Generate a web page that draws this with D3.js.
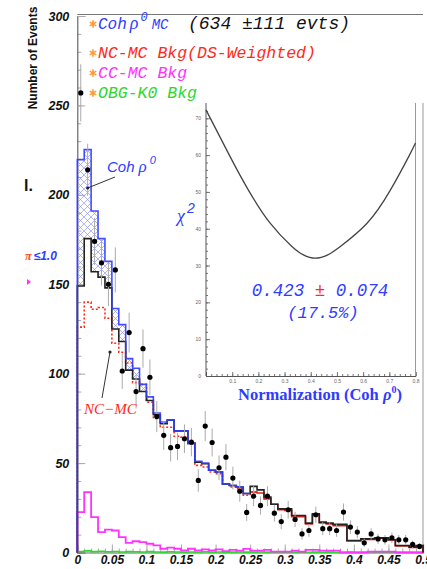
<!DOCTYPE html>
<html>
<head>
<meta charset="utf-8">
<script src="https://cdn.jsdelivr.net/npm/d3@7"></script>
<style>
  body { margin: 0; background: #fff; }
  svg { display: block; }
</style>
</head>
<body>
<div id="container"></div>
<script>
const width = 427;
const height = 569;

// 50 bins of 0.01 from 0 to 0.5
const binWidth = 0.01;
const dataCounts = [257, 214, 174, 162, 150, 158, 101.5, 123, 90, 114,
                    98, 76, 65.5, 58.6, 59.3, 63.6, 61.7, 40.3, 70.7, 61.5,
                    47.4, 53.3, 41.6, 34.3, 22.4, 31.5, 26.3, 31.5, 22, 17.3,
                    23.9, 18.5, 10.4, 12.3, 21.1, 13.3, 13.3, 12.3, 22.6, 14.2,
                    11.4, 5.4, 10.4, 7.6, 7.1, 8.2, 7.1, 7.1, 4.5, 3.4];
const dataErrors = [16, 14.6, 13.2, 12.7, 12.2, 12.6, 10, 11.1, 9.5, 10.7,
                    9.9, 8.7, 8.1, 7.7, 7.7, 8, 7.9, 6.3, 8.4, 7.8,
                    6.9, 7.3, 6.4, 5.9, 4.7, 5.6, 5.1, 5.6, 4.7, 4.2,
                    4.9, 4.3, 3.2, 3.5, 4.6, 3.6, 3.6, 3.5, 4.8, 3.8,
                    3.4, 2.3, 3.2, 2.8, 2.7, 2.9, 2.7, 2.7, 2.1, 1.8];
const totalMC = [149, 175.5, 157, 154, 148, 125, 118, 102, 97, 90,
                 85, 77, 72, 74, 68, 68, 61, 50.5, 49.6, 46,
                 45, 38.4, 37.5, 36.6, 33, 37, 35, 31, 27, 24.4,
                 24.4, 20.7, 20.7, 16.4, 21.6, 17, 16.4, 15.7, 15.7, 6.7,
                 6.7, 7.6, 7.6, 8.2, 8.2, 7.1, 3.9, 3.9, 3.0, 3.9];
const cohPlusBkg = [219.7, 225.3, 191, 175.5, 162.8, 136.4, 127.4, 108.4, 103, 94,
                    87, 78, 73, 74, 68, 68, 61, 51, 50, 46,
                    45, 38.4, 37.5, 36.6, 33];
const ncBkg = [126, 140, 136, 137, 131, 117, 112, 106, 95, 94,
               84, 75, 70, 70, 65, 64.5, 61, 48.7, 47.8, 45,
               44, 38.4, 36.6, 35.7, 32, 33.8, 33.3, 30, 27, 24,
               23.5, 20, 20, 16, 21, 16.5, 16, 15, 15, 6.5,
               6.5, 7.3, 7.3, 8, 8, 7, 3.7, 3.7, 2.8, 3.7];
const ccBkg = [22.6, 33.8, 19.8, 11.4, 12.8, 12.3, 8.6, 5.4, 6.3, 5.8,
               4.9, 4.0, 2.1, 2.7, 2.1, 1.2, 2.1, 1.2, 1.7, 1.2,
               1.7, 0.8, 1.5, 1.0, 2.0, 1.0, 1.0, 1.5, 0.5, 0.5,
               0.5, 1.0, 0.5, 1.5, 1.5, 1.0, 1.0, 1.0, 0, 0,
               0, 0, 0.5, 0.5, 0.5, 0.5, 0, 0, 0, 0];
const obgBkg = [0.6, 0.9, 0.5, 0.7, 0.4, 0.6, 0.3, 0.5, 0.4, 0.3,
                0.5, 0.3, 0.2, 0.4, 0.3, 0.2, 0.3, 0.2, 0.4, 0.2,
                0.3, 0.2, 0.2, 0.3, 0.2, 0.2, 0.3, 0.2, 0.2, 0.2,
                0.1, 0.2, 0.2, 0.1, 0.2, 0.1, 0.2, 0.1, 0.1, 0.2,
                0.1, 0.1, 0.2, 0.1, 0.1, 0.1, 0.1, 0.1, 0.1, 0.1];
const redDashedBins = 26;

const yMajorTicks = [0, 50, 100, 150, 200, 250, 300];
const xMajorTicks = [0, 0.05, 0.1, 0.15, 0.2, 0.25, 0.3, 0.35, 0.4, 0.45, 0.5];
const xTickLabels = ["0", "0.05", "0.1", "0.15", "0.2", "0.25", "0.3", "0.35", "0.4", "0.45", "0.5"];

// chi2 scan
const chiNorm = [0, 0.092, 0.162, 0.245, 0.328, 0.372, 0.417, 0.465, 0.513, 0.615, 0.704, 0.774, 0.8];
const chiValues = [72.3, 59.6, 50.5, 41.5, 35.2, 32.9, 32.0, 32.9, 35.2, 41.5, 50.5, 59.6, 63.3];
const insetYTicks = [0, 10, 20, 30, 40, 50, 60, 70];
const insetXTicks = [0.1, 0.2, 0.3, 0.4, 0.5, 0.6, 0.7, 0.8];

const legendEntries = [
  {label: "NC-MC Bkg(DS-Weighted)", color: "#ff2a1a"},
  {label: "CC-MC Bkg", color: "#ff33ff"},
  {label: "OBG-K0 Bkg", color: "#2ed62e"}
];

const blue = "#2f3cff";
const mono = "'Liberation Mono', 'DejaVu Sans Mono', monospace";
const sans = "'Liberation Sans', Arial, sans-serif";
const serif = "'Liberation Serif', 'Times New Roman', serif";

const svg = d3.select("#container")
              .append("svg")
              .attr("width", width)
              .attr("height", height);

const defs = svg.append("defs");
const hatch = defs.append("pattern")
                  .attr("id", "hatch")
                  .attr("patternUnits", "userSpaceOnUse")
                  .attr("width", 7)
                  .attr("height", 7);
hatch.append("path")
     .attr("d", "M0,0 L7,7 M-1,6 L1,8 M6,-1 L8,1 M7,0 L0,7 M-1,1 L1,-1 M6,8 L8,6")
     .attr("stroke", "#8c94ff")
     .attr("stroke-width", 0.7)
     .attr("fill", "none");

const x = d3.scaleLinear().domain([0, 0.5]).range([77.3, 423]);
const y = d3.scaleLinear().domain([0, 300]).range([552.5, 16]);

function stepLine(values, startBin, dropStart, dropEnd) {
  const pts = [];
  if (dropStart) pts.push([x(startBin * binWidth), y(0)]);
  values.forEach((v, i) => {
    const b = (startBin + i) * binWidth;
    pts.push([x(b), y(v)], [x(b + binWidth), y(v)]);
  });
  if (dropEnd) pts.push([x((startBin + values.length) * binWidth), y(0)]);
  return d3.line()(pts);
}

// inset pad background
svg.append("rect")
   .attr("x", 176)
   .attr("y", 100)
   .attr("width", 247)
   .attr("height", 310)
   .attr("fill", "#fff");
svg.append("line")
   .attr("x1", 423).attr("x2", 423)
   .attr("y1", 103).attr("y2", 552)
   .attr("stroke", "#bbb")
   .attr("stroke-width", 1.5);

// main axes frame
svg.append("line")
   .attr("x1", x(0)).attr("x2", 423)
   .attr("y1", 14.5).attr("y2", 14.5)
   .attr("stroke", "#777")
   .attr("stroke-width", 1);

const yMinor = svg.append("g")
                  .attr("transform", "translate(" + x(0) + ",0)")
                  .call(d3.axisLeft(y).tickValues(d3.range(0, 301, 10)).tickSize(-4).tickFormat(""));
const yAxis = svg.append("g")
                 .attr("transform", "translate(" + x(0) + ",0)")
                 .call(d3.axisLeft(y).tickValues(yMajorTicks).tickSize(-8).tickPadding(8));
yAxis.selectAll("text")
     .attr("font-family", sans)
     .attr("font-style", "italic")
     .attr("font-weight", "bold")
     .attr("font-size", 12.5)
     .attr("fill", "#111");
const xMinor = svg.append("g")
                  .attr("transform", "translate(0," + y(0) + ")")
                  .call(d3.axisBottom(x).tickValues(d3.range(0, 0.505, 0.01)).tickSize(-4).tickFormat(""));
const xAxis = svg.append("g")
                 .attr("transform", "translate(0," + y(0) + ")")
                 .call(d3.axisBottom(x).tickValues(xMajorTicks).tickSize(-8).tickPadding(3)
                         .tickFormat((d, i) => xTickLabels[i]));
xAxis.selectAll("text")
     .attr("font-family", sans)
     .attr("font-style", "italic")
     .attr("font-weight", "bold")
     .attr("font-size", 12)
     .attr("fill", "#111");
[yMinor, yAxis, xMinor, xAxis].forEach(g => {
  g.selectAll(".tick line").attr("stroke", "#aaa");
  g.select(".domain").attr("stroke", "#666").attr("stroke-width", 1.2);
});
xMinor.select(".domain").remove();
yMinor.select(".domain").remove();

svg.append("text")
   .attr("transform", "translate(37,58) rotate(-90)")
   .attr("text-anchor", "middle")
   .attr("font-family", sans)
   .attr("font-weight", "bold")
   .attr("font-size", 12)
   .attr("fill", "#111")
   .text("Number of Events");

// hatched area between total and Coh+bkg
svg.append("g")
   .selectAll("rect")
   .data(cohPlusBkg)
   .enter()
   .filter((d, i) => d > totalMC[i])
   .append("rect")
   .attr("x", (d, i) => x(i * binWidth))
   .attr("width", x(binWidth) - x(0))
   .attr("y", d => y(d))
   .attr("height", (d, i) => y(totalMC[i]) - y(d))
   .attr("fill", "url(#hatch)");

// histograms
svg.append("path")
   .attr("d", stepLine(obgBkg, 0, true, true))
   .attr("fill", "none")
   .attr("stroke", "#2ed62e")
   .attr("stroke-width", 1.6);
svg.append("path")
   .attr("d", stepLine(ccBkg, 0, true, true))
   .attr("fill", "none")
   .attr("stroke", "#ff33ff")
   .attr("stroke-width", 1.8);
svg.append("path")
   .attr("d", stepLine(ncBkg.slice(0, redDashedBins), 0, true, false))
   .attr("fill", "none")
   .attr("stroke", "#ff2a1a")
   .attr("stroke-width", 1.6)
   .attr("stroke-dasharray", "2,2");
svg.append("path")
   .attr("d", stepLine(ncBkg.slice(redDashedBins - 1), redDashedBins - 1, false, true))
   .attr("fill", "none")
   .attr("stroke", "#e0201a")
   .attr("stroke-width", 1.6);
svg.append("path")
   .attr("d", stepLine(totalMC, 0, true, true))
   .attr("fill", "none")
   .attr("stroke", "#222")
   .attr("stroke-width", 1.6);
svg.append("path")
   .attr("d", stepLine(cohPlusBkg, 0, true, false))
   .attr("fill", "none")
   .attr("stroke", blue)
   .attr("stroke-width", 1.6)
   .attr("stroke-opacity", 0.9);

// data points with error bars
const pts = svg.append("g")
               .selectAll("g")
               .data(dataCounts)
               .enter()
               .append("g")
               .attr("transform", (d, i) => "translate(" + x((i + 0.5) * binWidth) + ",0)");
pts.append("line")
   .attr("y1", (d, i) => y(d + dataErrors[i]))
   .attr("y2", (d, i) => y(Math.max(0, d - dataErrors[i])))
   .attr("stroke", "#aaa")
   .attr("stroke-width", 1);
pts.append("circle")
   .attr("cy", d => y(d))
   .attr("r", 2.6)
   .attr("fill", "#000");

// legend
const star = d3.symbol().type(d3.symbolAsterisk).size(40);
[24, 53, 73, 93].forEach(cy => {
  svg.append("path")
     .attr("d", star())
     .attr("transform", "translate(93," + cy + ")")
     .attr("stroke", "#ff9933")
     .attr("stroke-width", 1.6)
     .attr("fill", "none");
});
const leg1 = svg.append("text")
                .attr("x", 98)
                .attr("y", 29)
                .attr("font-family", mono)
                .attr("font-style", "italic")
                .attr("font-size", 16)
                .attr("fill", blue);
leg1.append("tspan").text("Coh");
leg1.append("tspan").attr("font-family", serif).attr("font-size", 18).attr("dx", 3).text("ρ");
leg1.append("tspan").attr("font-size", 12).attr("dx", 2).attr("dy", -8).text("0");
leg1.append("tspan").attr("font-size", 14).attr("dx", 4).attr("dy", 8).text("MC");
svg.append("text")
   .attr("x", 188)
   .attr("y", 29)
   .attr("font-family", mono)
   .attr("font-style", "italic")
   .attr("font-size", 18)
   .attr("fill", "#111")
   .text("(634 ±111 evts)");
svg.selectAll(".legend-text")
   .data(legendEntries)
   .enter()
   .append("text")
   .attr("class", "legend-text")
   .attr("x", 98)
   .attr("y", (d, i) => [58, 78, 98][i])
   .attr("font-family", mono)
   .attr("font-style", "italic")
   .attr("font-size", 16.5)
   .attr("fill", d => d.color)
   .text(d => d.label);

// labels with arrows
const cohLabel = svg.append("text")
                    .attr("x", 107)
                    .attr("y", 172)
                    .attr("font-family", sans)
                    .attr("font-style", "italic")
                    .attr("font-size", 15)
                    .attr("fill", blue);
cohLabel.append("tspan").text("Coh");
cohLabel.append("tspan").attr("font-family", serif).attr("font-size", 17).attr("dx", 4).text("ρ");
cohLabel.append("tspan").attr("font-size", 11).attr("dx", 3).attr("dy", -8).text("0");
svg.append("line")
   .attr("x1", 115).attr("y1", 177)
   .attr("x2", x(0.015)).attr("y2", 188)
   .attr("stroke", "#333")
   .attr("stroke-width", 1);
svg.append("circle")
   .attr("cx", x(0.015)).attr("cy", 188).attr("r", 1.6).attr("fill", "#222");
svg.append("text")
   .attr("x", 84)
   .attr("y", 414)
   .attr("font-family", serif)
   .attr("font-style", "italic")
   .attr("font-size", 15)
   .attr("fill", "#ff2a1a")
   .text("NC−MC");
svg.append("line")
   .attr("x1", 102).attr("y1", 398)
   .attr("x2", 110).attr("y2", 352)
   .attr("stroke", "#333")
   .attr("stroke-width", 1);
svg.append("circle")
   .attr("cx", 110).attr("cy", 352).attr("r", 1.6).attr("fill", "#222");

// left margin fragments
svg.append("text").attr("x", 24).attr("y", 191)
   .attr("font-family", sans).attr("font-weight", "bold").attr("font-size", 16)
   .attr("fill", "#111").text("l.");
const cut = svg.append("text").attr("x", 25).attr("y", 260)
               .attr("font-family", sans).attr("font-style", "italic").attr("font-weight", "bold")
               .attr("font-size", 12);
cut.append("tspan").attr("fill", "#ff4a2a").attr("font-family", serif).text("π");
cut.append("tspan").attr("fill", blue).attr("dx", 2).text("≤1.0");
svg.append("path").attr("d", "M27,279 L31,282 L27,285 Z").attr("fill", "#ff33ff");

// inset: chi2 vs normalization
const xi = d3.scaleLinear().domain([0, 0.8]).range([206, 415.5]);
const yi = d3.scaleLinear().domain([0, 70]).range([376, 118.3]);

const iyMinor = svg.append("g")
                   .attr("transform", "translate(206,0)")
                   .call(d3.axisLeft(yi).tickValues(d3.range(0, 73, 2)).tickSize(-2).tickFormat(""));
const iyAxis = svg.append("g")
                  .attr("transform", "translate(206,0)")
                  .call(d3.axisLeft(yi).tickValues(insetYTicks).tickSize(-4).tickPadding(5));
const ixMinor = svg.append("g")
                   .attr("transform", "translate(0,376)")
                   .call(d3.axisBottom(xi).tickValues(d3.range(0, 0.81, 0.02)).tickSize(-2).tickFormat(""));
const ixAxis = svg.append("g")
                  .attr("transform", "translate(0,376)")
                  .call(d3.axisBottom(xi).tickValues(insetXTicks).tickSize(-4).tickPadding(3));
[iyMinor, iyAxis, ixMinor, ixAxis].forEach(g => {
  g.selectAll(".tick line").attr("stroke", "#777");
  g.selectAll("text").attr("font-size", 5).attr("font-family", sans).attr("fill", "#666");
  g.select(".domain").attr("stroke", "#555");
});
iyAxis.select(".domain").remove();
iyMinor.select(".domain").remove();
ixMinor.select(".domain").remove();
svg.append("line").attr("x1", 206).attr("x2", 206).attr("y1", 103).attr("y2", 376)
   .attr("stroke", "#555").attr("stroke-width", 1);
svg.append("line").attr("x1", 415.5).attr("x2", 415.5).attr("y1", 103).attr("y2", 376)
   .attr("stroke", "#999").attr("stroke-width", 1);

svg.append("path")
   .datum(chiNorm.map((n, i) => [n, chiValues[i]]))
   .attr("d", d3.line().x(d => xi(d[0])).y(d => yi(d[1])).curve(d3.curveNatural))
   .attr("fill", "none")
   .attr("stroke", "#444")
   .attr("stroke-width", 1.3);

const chiLabel = svg.append("text")
                    .attr("x", 177)
                    .attr("y", 222)
                    .attr("font-family", serif)
                    .attr("font-style", "italic")
                    .attr("font-size", 18)
                    .attr("fill", blue);
chiLabel.append("tspan").text("χ");
chiLabel.append("tspan").attr("font-family", sans).attr("font-size", 14).attr("dx", 2).attr("dy", -9).text("2");

const fitText = svg.append("text")
                   .attr("x", 320)
                   .attr("y", 296)
                   .attr("text-anchor", "middle")
                   .attr("font-family", mono)
                   .attr("font-style", "italic")
                   .attr("font-size", 17.5)
                   .attr("fill", blue);
fitText.append("tspan").text("0.423 ");
fitText.append("tspan").attr("fill", "#ff2a1a").text("±");
fitText.append("tspan").text(" 0.074");
svg.append("text")
   .attr("x", 323)
   .attr("y", 318)
   .attr("text-anchor", "middle")
   .attr("font-family", mono)
   .attr("font-style", "italic")
   .attr("font-size", 17)
   .attr("fill", blue)
   .text("(17.5%)");

const normLabel = svg.append("text")
                     .attr("x", 320)
                     .attr("y", 400)
                     .attr("text-anchor", "middle")
                     .attr("font-family", serif)
                     .attr("font-weight", "bold")
                     .attr("font-size", 16.5)
                     .attr("fill", blue);
normLabel.append("tspan").text("Normalization (Coh ");
normLabel.append("tspan").attr("font-style", "italic").text("ρ");
normLabel.append("tspan").attr("font-size", 10).attr("dy", -7).text("0");
normLabel.append("tspan").attr("dy", 7).text(")");
</script>
</body>
</html>
